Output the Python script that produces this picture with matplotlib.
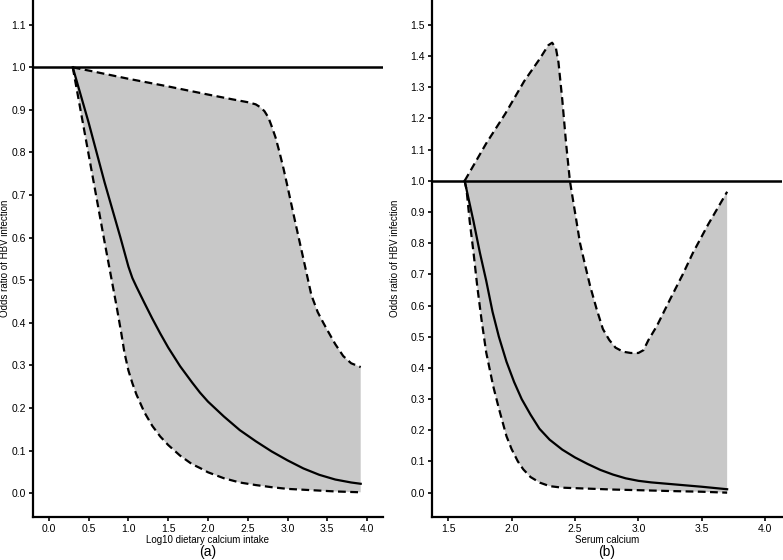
import numpy as np
import matplotlib
matplotlib.use('Agg')
import matplotlib.pyplot as plt

plt.rcParams['font.family'] = ['Liberation Sans', 'DejaVu Sans']

# panel (a): log10 dietary calcium intake
a_mid_x = [0.30, 0.50, 0.70, 0.90, 1.00, 1.05, 1.10, 1.20, 1.30, 1.40, 1.50, 1.65, 1.80, 1.90, 2.00,
           2.20, 2.40, 2.60, 2.80, 3.00, 3.20, 3.40, 3.60, 3.80, 3.92]
a_mid_y = [1.00, 0.87, 0.73, 0.60, 0.532, 0.505, 0.485, 0.447, 0.41, 0.375, 0.342, 0.298, 0.26, 0.236, 0.215,
           0.18, 0.148, 0.122, 0.098, 0.077, 0.058, 0.043, 0.032, 0.025, 0.022]

a_low_x = [0.30, 0.50, 0.70, 0.85, 0.91, 0.95, 1.00, 1.05, 1.10, 1.20, 1.30, 1.40, 1.50, 1.65, 1.80,
           1.90, 2.00, 2.20, 2.40, 2.60, 2.80, 3.00, 3.30, 3.60, 3.92]
a_low_y = [1.00, 0.795, 0.59, 0.44, 0.376, 0.33, 0.288, 0.258, 0.232, 0.19, 0.158, 0.133, 0.113, 0.088, 0.068,
           0.059, 0.049, 0.035, 0.025, 0.019, 0.014, 0.010, 0.007, 0.004, 0.002]

a_up_x = [0.30, 0.40, 0.51, 1.00, 1.50, 2.00, 2.30, 2.50, 2.60, 2.66, 2.71, 2.76, 2.80, 2.85, 2.90, 2.95,
          3.00, 3.10, 3.20, 3.30, 3.38, 3.45, 3.50, 3.60, 3.70, 3.80, 3.92]
a_up_y = [1.00, 0.996, 0.992, 0.973, 0.955, 0.936, 0.925, 0.918, 0.913, 0.906, 0.897, 0.882, 0.862, 0.835,
          0.80, 0.762, 0.72, 0.634, 0.55, 0.465, 0.425, 0.40, 0.383, 0.35, 0.322, 0.305, 0.296]

# panel (b): serum calcium
b_mid_x = [1.63, 1.70, 1.75, 1.80, 1.85, 1.90, 1.96, 2.02, 2.08, 2.15, 2.22, 2.30, 2.40, 2.50, 2.60,
           2.70, 2.80, 2.90, 3.00, 3.10, 3.30, 3.50, 3.70]
b_mid_y = [1.00, 0.87, 0.77, 0.68, 0.58, 0.50, 0.42, 0.355, 0.30, 0.25, 0.205, 0.17, 0.138, 0.113, 0.092,
           0.073, 0.058, 0.046, 0.038, 0.033, 0.026, 0.019, 0.011]

b_low_x = [1.63, 1.645, 1.67, 1.70, 1.73, 1.763, 1.80, 1.855, 1.90, 1.96, 2.00, 2.05, 2.092, 2.15, 2.224,
           2.30, 2.40, 2.60, 2.80, 3.00, 3.275, 3.50, 3.70]
b_low_y = [1.00, 0.972, 0.87, 0.77, 0.66, 0.555, 0.45, 0.342, 0.27, 0.181, 0.14, 0.10, 0.075, 0.05, 0.032,
           0.021, 0.016, 0.013, 0.010, 0.008, 0.005, 0.003, 0.0]

b_up_x = [1.63, 1.80, 1.95, 2.10, 2.22, 2.29, 2.32, 2.35, 2.37, 2.40, 2.43, 2.46, 2.50, 2.54, 2.58, 2.62,
          2.67, 2.72, 2.77, 2.82, 2.88, 2.94, 3.00, 3.04, 3.08, 3.145, 3.25, 3.35, 3.43, 3.55, 3.70]
b_up_y = [1.00, 1.12, 1.215, 1.32, 1.39, 1.435, 1.443, 1.425, 1.38, 1.26, 1.12, 1.00, 0.90, 0.80, 0.73,
          0.662, 0.59, 0.525, 0.49, 0.465, 0.452, 0.448, 0.448, 0.457, 0.49, 0.534, 0.62, 0.70, 0.769,
          0.86, 0.965]

fill_col = '#c8c8c8'
dash = (3.5, 2.0)


def draw_panel(ax, mx, my, lx, ly, ux, uy, xlim, ylim, xticks, yticks, xlabel, tag, ylab_x):
    poly_x = list(ux) + list(lx[::-1])
    poly_y = list(uy) + list(ly[::-1])
    ax.fill(poly_x, poly_y, color=fill_col, lw=0, zorder=1)
    ax.plot(ux, uy, color='black', lw=1.6, dashes=dash, zorder=3)
    ax.plot(lx, ly, color='black', lw=1.6, dashes=dash, zorder=3)
    ax.plot(mx, my, color='black', lw=1.6, zorder=4)
    ax.axhline(1.0, color='black', lw=1.8, zorder=5)
    ax.set_xlim(*xlim)
    ax.set_ylim(*ylim)
    ax.set_xticks(xticks)
    ax.set_yticks(yticks)
    ax.set_xticklabels(['%.1f' % t for t in xticks])
    ax.set_yticklabels(['%.1f' % t for t in yticks])
    for s in ['top', 'right']:
        ax.spines[s].set_visible(False)
    for s in ['left', 'bottom']:
        ax.spines[s].set_linewidth(1.6)
    ax.tick_params(labelsize=7.5, length=3, width=1.2, pad=2)
    ax.set_xlabel(xlabel, fontsize=7, labelpad=1)
    ax.set_ylabel('Odds ratio of HBV infection', fontsize=7)
    ax.yaxis.set_label_coords(ylab_x, 0.5)
    ax.text(0.5, -0.068, tag, transform=ax.transAxes, ha='center', va='center', fontsize=10)


fig = plt.figure(figsize=(7.83, 5.6), dpi=100)
ax1 = fig.add_axes([0.0421, 0.0768, 0.447, 0.9232])
ax2 = fig.add_axes([0.5513, 0.0768, 0.447, 0.9232])

draw_panel(ax1, a_mid_x, a_mid_y, a_low_x, a_low_y, a_up_x, a_up_y,
           (-0.2, 4.2), (-0.056, 1.158), np.arange(0, 4.01, 0.5), np.arange(0, 1.11, 0.1),
           'Log10 dietary calcium intake', '(a)', -0.065)
draw_panel(ax2, b_mid_x, b_mid_y, b_low_x, b_low_y, b_up_x, b_up_y,
           (1.37, 4.13), (-0.078, 1.58), np.arange(1.5, 4.01, 0.5), np.arange(0, 1.51, 0.1),
           'Serum calcium', '(b)', -0.09)

fig.savefig('out.png', dpi=100)
